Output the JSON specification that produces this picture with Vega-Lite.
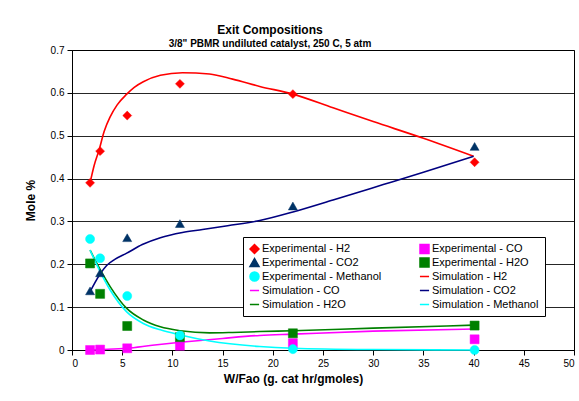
{
  "$schema": "https://vega.github.io/schema/vega-lite/v6.json",
  "width": 502,
  "height": 300,
  "autosize": {"type": "none"},
  "padding": {"left": 72, "top": 50, "right": 5, "bottom": 51},
  "background": "white",
  "config": {
    "font": "Liberation Sans",
    "view": {"stroke": "black", "strokeWidth": 1}
  },
  "title": {
    "text": "Exit Compositions",
    "subtitle": "3/8\" PBMR undiluted catalyst, 250 C, 5 atm",
    "anchor": "middle",
    "dx": -53,
    "fontSize": 12,
    "fontWeight": "bold",
    "subtitleFontSize": 10,
    "subtitleFontWeight": "bold",
    "subtitleColor": "black",
    "color": "black",
    "subtitlePadding": 2,
    "offset": -5
  },
  "data": {
    "values": [
      {"series": "Experimental - H2", "x": 1.8, "y": 0.39},
      {"series": "Experimental - H2", "x": 2.8, "y": 0.464},
      {"series": "Experimental - H2", "x": 5.5, "y": 0.547},
      {"series": "Experimental - H2", "x": 10.75, "y": 0.621},
      {"series": "Experimental - H2", "x": 22, "y": 0.597},
      {"series": "Experimental - H2", "x": 40.1, "y": 0.438},
      {"series": "Experimental - CO", "x": 1.8, "y": 0.0},
      {"series": "Experimental - CO", "x": 2.8, "y": 0.001},
      {"series": "Experimental - CO", "x": 5.5, "y": 0.004},
      {"series": "Experimental - CO", "x": 10.75, "y": 0.01},
      {"series": "Experimental - CO", "x": 22, "y": 0.016},
      {"series": "Experimental - CO", "x": 40.1, "y": 0.025},
      {"series": "Experimental - CO2", "x": 1.8, "y": 0.138},
      {"series": "Experimental - CO2", "x": 2.8, "y": 0.18},
      {"series": "Experimental - CO2", "x": 5.5, "y": 0.262},
      {"series": "Experimental - CO2", "x": 10.75, "y": 0.295},
      {"series": "Experimental - CO2", "x": 22, "y": 0.336},
      {"series": "Experimental - CO2", "x": 40.1, "y": 0.475},
      {"series": "Experimental - H2O", "x": 1.8, "y": 0.202},
      {"series": "Experimental - H2O", "x": 2.8, "y": 0.131},
      {"series": "Experimental - H2O", "x": 5.5, "y": 0.056},
      {"series": "Experimental - H2O", "x": 10.75, "y": 0.03},
      {"series": "Experimental - H2O", "x": 22, "y": 0.039},
      {"series": "Experimental - H2O", "x": 40.1, "y": 0.057},
      {"series": "Experimental - Methanol", "x": 1.8, "y": 0.259},
      {"series": "Experimental - Methanol", "x": 2.8, "y": 0.214},
      {"series": "Experimental - Methanol", "x": 5.5, "y": 0.126},
      {"series": "Experimental - Methanol", "x": 10.75, "y": 0.034},
      {"series": "Experimental - Methanol", "x": 22, "y": 0.002},
      {"series": "Experimental - Methanol", "x": 40.1, "y": 0.0},

      {"series": "Simulation - H2", "x": 1.8, "y": 0.39},
      {"series": "Simulation - H2", "x": 2.2, "y": 0.43},
      {"series": "Simulation - H2", "x": 2.7, "y": 0.467},
      {"series": "Simulation - H2", "x": 3.2, "y": 0.51},
      {"series": "Simulation - H2", "x": 3.8, "y": 0.544},
      {"series": "Simulation - H2", "x": 4.5, "y": 0.572},
      {"series": "Simulation - H2", "x": 5.45, "y": 0.597},
      {"series": "Simulation - H2", "x": 6.2, "y": 0.613},
      {"series": "Simulation - H2", "x": 7.1, "y": 0.626},
      {"series": "Simulation - H2", "x": 8.8, "y": 0.641},
      {"series": "Simulation - H2", "x": 11, "y": 0.647},
      {"series": "Simulation - H2", "x": 13.7, "y": 0.644},
      {"series": "Simulation - H2", "x": 16, "y": 0.632},
      {"series": "Simulation - H2", "x": 18.7, "y": 0.615},
      {"series": "Simulation - H2", "x": 22, "y": 0.597},
      {"series": "Simulation - H2", "x": 26, "y": 0.565},
      {"series": "Simulation - H2", "x": 30, "y": 0.533},
      {"series": "Simulation - H2", "x": 35, "y": 0.494},
      {"series": "Simulation - H2", "x": 40, "y": 0.452},

      {"series": "Simulation - CO", "x": 1.8, "y": 0.0},
      {"series": "Simulation - CO", "x": 2.8, "y": 0.001},
      {"series": "Simulation - CO", "x": 5.45, "y": 0.004},
      {"series": "Simulation - CO", "x": 8, "y": 0.011},
      {"series": "Simulation - CO", "x": 10.8, "y": 0.018},
      {"series": "Simulation - CO", "x": 15, "y": 0.027},
      {"series": "Simulation - CO", "x": 18.7, "y": 0.034},
      {"series": "Simulation - CO", "x": 22, "y": 0.037},
      {"series": "Simulation - CO", "x": 30, "y": 0.044},
      {"series": "Simulation - CO", "x": 40, "y": 0.049},

      {"series": "Simulation - CO2", "x": 1.8, "y": 0.136},
      {"series": "Simulation - CO2", "x": 2.3, "y": 0.158},
      {"series": "Simulation - CO2", "x": 2.8, "y": 0.177},
      {"series": "Simulation - CO2", "x": 3.45, "y": 0.197},
      {"series": "Simulation - CO2", "x": 4.3, "y": 0.212},
      {"series": "Simulation - CO2", "x": 5.45, "y": 0.226},
      {"series": "Simulation - CO2", "x": 7, "y": 0.246},
      {"series": "Simulation - CO2", "x": 8.8, "y": 0.262},
      {"series": "Simulation - CO2", "x": 11, "y": 0.274},
      {"series": "Simulation - CO2", "x": 13, "y": 0.281},
      {"series": "Simulation - CO2", "x": 15.5, "y": 0.29},
      {"series": "Simulation - CO2", "x": 18.7, "y": 0.302},
      {"series": "Simulation - CO2", "x": 22, "y": 0.322},
      {"series": "Simulation - CO2", "x": 26, "y": 0.35},
      {"series": "Simulation - CO2", "x": 31, "y": 0.386},
      {"series": "Simulation - CO2", "x": 35, "y": 0.415},
      {"series": "Simulation - CO2", "x": 40, "y": 0.452},

      {"series": "Simulation - H2O", "x": 1.8, "y": 0.233},
      {"series": "Simulation - H2O", "x": 2.8, "y": 0.188},
      {"series": "Simulation - H2O", "x": 3.8, "y": 0.148},
      {"series": "Simulation - H2O", "x": 5.45, "y": 0.097},
      {"series": "Simulation - H2O", "x": 7.1, "y": 0.07},
      {"series": "Simulation - H2O", "x": 8.8, "y": 0.054},
      {"series": "Simulation - H2O", "x": 10.8, "y": 0.045},
      {"series": "Simulation - H2O", "x": 13.7, "y": 0.04},
      {"series": "Simulation - H2O", "x": 16, "y": 0.041},
      {"series": "Simulation - H2O", "x": 18.7, "y": 0.043},
      {"series": "Simulation - H2O", "x": 22, "y": 0.045},
      {"series": "Simulation - H2O", "x": 30, "y": 0.051},
      {"series": "Simulation - H2O", "x": 40, "y": 0.058},

      {"series": "Simulation - Methanol", "x": 1.8, "y": 0.233},
      {"series": "Simulation - Methanol", "x": 2.8, "y": 0.183},
      {"series": "Simulation - Methanol", "x": 3.8, "y": 0.14},
      {"series": "Simulation - Methanol", "x": 5.45, "y": 0.089},
      {"series": "Simulation - Methanol", "x": 7.1, "y": 0.062},
      {"series": "Simulation - Methanol", "x": 8.8, "y": 0.047},
      {"series": "Simulation - Methanol", "x": 10.8, "y": 0.035},
      {"series": "Simulation - Methanol", "x": 13.7, "y": 0.021},
      {"series": "Simulation - Methanol", "x": 18.7, "y": 0.008},
      {"series": "Simulation - Methanol", "x": 22, "y": 0.004},
      {"series": "Simulation - Methanol", "x": 30, "y": 0.001},
      {"series": "Simulation - Methanol", "x": 40, "y": 0.0}
    ]
  },
  "encoding": {
    "x": {
      "field": "x", "type": "quantitative",
      "scale": {"domain": [0, 50], "nice": false},
      "axis": {
        "title": "W/Fao (g. cat hr/gmoles)",
        "values": [0, 5, 10, 15, 20, 25, 30, 35, 40, 45, 50],
        "grid": false,
        "domainColor": "black", "tickColor": "black", "tickSize": 5,
        "labelFontSize": 10, "labelColor": "black", "labelPadding": 3,
        "titleFontSize": 12, "titleFontWeight": "bold", "titleColor": "black",
        "titlePadding": 5, "titleX": 221
      }
    },
    "y": {
      "field": "y", "type": "quantitative",
      "scale": {"domain": [0, 0.7], "nice": false},
      "axis": {
        "title": "Mole %",
        "values": [0, 0.1, 0.2, 0.3, 0.4, 0.5, 0.6, 0.7],
        "format": "~g",
        "grid": true, "gridColor": "black", "gridOpacity": 0.85,
        "domainColor": "black", "tickColor": "black", "tickSize": 5,
        "labelFontSize": 10, "labelColor": "black", "labelPadding": 3,
        "titleFontSize": 12, "titleFontWeight": "bold", "titleColor": "black",
        "titlePadding": 13
      }
    },
    "color": {
      "field": "series", "type": "nominal",
      "scale": {
        "domain": ["Experimental - H2", "Experimental - CO", "Experimental - CO2", "Experimental - H2O", "Experimental - Methanol", "Simulation - H2", "Simulation - CO", "Simulation - CO2", "Simulation - H2O", "Simulation - Methanol"],
        "range": ["#FF0000", "#FF00FF", "#003366", "#008000", "#00FFFF", "#FF0000", "#FF00FF", "#000080", "#008000", "#00FFFF"]
      },
      "legend": {
        "title": null,
        "orient": "none",
        "legendX": 171,
        "legendY": 187,
        "direction": "horizontal",
        "columns": 2,
        "gridAlign": "all",
        "columnPadding": 34,
        "rowPadding": -6,
        "padding": 6,
        "strokeColor": "black",
        "fillColor": "white",
        "labelFontSize": 11,
        "labelColor": "black",
        "labelOffset": 2,
        "labelLimit": 300,
        "symbolStrokeWidth": 1.5
      }
    }
  },
  "layer": [
    {
      "transform": [{"filter": "indexof(datum.series, 'Sim') === 0"}],
      "mark": {"type": "line", "strokeWidth": 1.6, "interpolate": "monotone"},
      "encoding": {}
    },
    {
      "transform": [{"filter": "indexof(datum.series, 'Exp') === 0"}],
      "mark": {"type": "point", "filled": false, "opacity": 1, "strokeWidth": 0.5},
      "encoding": {
        "shape": {
          "field": "series", "type": "nominal",
          "scale": {
            "domain": ["Experimental - H2", "Experimental - CO", "Experimental - CO2", "Experimental - H2O", "Experimental - Methanol", "Simulation - H2", "Simulation - CO", "Simulation - CO2", "Simulation - H2O", "Simulation - Methanol"],
            "range": ["diamond", "square", "triangle-up", "square", "circle", "stroke", "stroke", "stroke", "stroke", "stroke"]
          }
        },
        "fill": {
          "field": "series", "type": "nominal",
          "scale": {
            "domain": ["Experimental - H2", "Experimental - CO", "Experimental - CO2", "Experimental - H2O", "Experimental - Methanol", "Simulation - H2", "Simulation - CO", "Simulation - CO2", "Simulation - H2O", "Simulation - Methanol"],
            "range": ["#FF0000", "#FF00FF", "#003366", "#008000", "#00FFFF", "transparent", "transparent", "transparent", "transparent", "transparent"]
          }
        },
        "size": {
          "field": "series", "type": "nominal",
          "scale": {
            "domain": ["Experimental - H2", "Experimental - CO", "Experimental - CO2", "Experimental - H2O", "Experimental - Methanol", "Simulation - H2", "Simulation - CO", "Simulation - CO2", "Simulation - H2O", "Simulation - Methanol"],
            "range": [80, 85, 90, 85, 80, 400, 400, 400, 400, 400]
          }
        }
      }
    }
  ]
}
